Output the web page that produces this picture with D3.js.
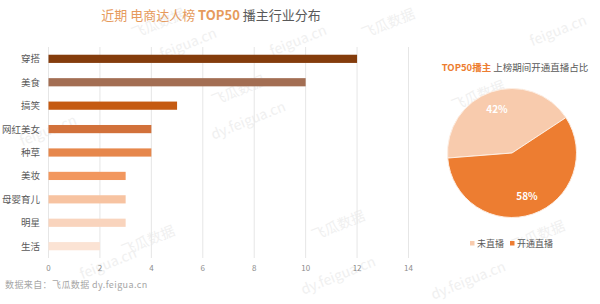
<!DOCTYPE html>
<html>
  <head>
    <meta charset="utf-8">
    <script src="https://d3js.org/d3.v7.min.js"></script>
    <style>
      body { margin: 0; background: #fff; }
      text { font-family: "Noto Sans CJK SC", "Noto Sans", sans-serif; }
    </style>
  </head>
  <body>
    <div id="chart"></div>
  <script>
    var width = 600,
        height = 304;

    // bar chart data
    var categories = ["穿搭", "美食", "搞笑", "网红美女", "种草", "美妆", "母婴育儿", "明星", "生活"];
    var counts = [12, 10, 5, 4, 4, 3, 3, 3, 2];
    var barColors = ["#843c0c", "#a36e53", "#c55a11", "#d2713a", "#e6874c", "#f2975e", "#f7c3a1", "#f9d4bd", "#fbe3d4"];
    var xTicks = [0, 2, 4, 6, 8, 10, 12, 14];

    // pie data
    var pieLabels = ["未直播", "开通直播"];
    var pieValues = [42, 58];
    var pieColors = ["#f8cbad", "#ed7d31"];

    var svg = d3.select("#chart").append("svg")
        .attr("width", width)
        .attr("height", height);

    // watermarks
    var marks = [
      ["飞瓜数据", 160, 28], ["feigua.cn", 190, 48], ["feigua.cn", 300, 45], ["飞瓜数据", 390, 28],
      ["飞瓜数据", 240, 95], ["dy.feigua.cn", 250, 125], ["飞瓜数据", 480, 100], ["dy.feigua.cn", 500, 130],
      ["feigua.cn", 50, 135], ["飞瓜数据", 150, 245], ["feigua.cn", 110, 268], ["飞瓜数据", 340, 230],
      ["dy.feigua.cn", 340, 280], ["飞瓜数据", 540, 240], ["feigua.cn", 560, 35], ["dy.feigua.cn", 470, 285]
    ];
    svg.selectAll(".wm").data(marks).enter().append("text")
        .attr("class", "wm")
        .attr("transform", d => `translate(${d[1]},${d[2]}) rotate(-22)`)
        .attr("text-anchor", "middle")
        .style("font-size", "14px")
        .style("fill", "#f0f0f0")
        .text(d => d[0]);

    // title
    var title = svg.append("text")
        .attr("x", 211)
        .attr("y", 20)
        .attr("text-anchor", "middle")
        .style("font-size", "13px");
    title.append("tspan").style("fill", "#e69a5c").text("近期 电商达人榜 ");
    title.append("tspan").style("fill", "#e69a5c").style("font-weight", "bold").text("TOP50");
    title.append("tspan").style("fill", "#595959").text(" 播主行业分布");

    // bar chart
    var x = d3.scaleLinear()
        .domain([0, 14])
        .range([48.5, 408.5]);

    var y = d3.scaleBand()
        .domain(categories)
        .range([47, 258])
        .paddingInner(0.65)
        .paddingOuter(0.33);

    svg.append("g")
        .selectAll("line")
        .data(xTicks)
        .enter()
        .append("line")
        .attr("x1", d => x(d))
        .attr("x2", d => x(d))
        .attr("y1", 47)
        .attr("y2", 258)
        .attr("stroke", "#e6e6e6")
        .attr("stroke-width", 1);

    svg.append("g")
        .selectAll("rect")
        .data(counts)
        .enter()
        .append("rect")
        .attr("x", x(0))
        .attr("y", (d, i) => y(categories[i]))
        .attr("width", d => x(d) - x(0))
        .attr("height", y.bandwidth())
        .attr("fill", (d, i) => barColors[i]);

    svg.append("g")
        .selectAll("text")
        .data(categories)
        .enter()
        .append("text")
        .attr("x", 40)
        .attr("y", d => y(d) + y.bandwidth() / 2 + 3.5)
        .attr("text-anchor", "end")
        .style("font-size", "9.5px")
        .style("fill", "#595959")
        .text(d => d);

    svg.append("g")
        .selectAll("text")
        .data(xTicks)
        .enter()
        .append("text")
        .attr("x", d => x(d))
        .attr("y", 271)
        .attr("text-anchor", "middle")
        .style("font-size", "8px")
        .style("fill", "#8c8c8c")
        .text(d => d);

    // source
    svg.append("text")
        .attr("x", 5)
        .attr("y", 288)
        .style("font-size", "9px")
        .style("fill", "#a6a6a6")
        .style("letter-spacing", "0.4px")
        .text("数据来自：飞瓜数据  dy.feigua.cn");

    // pie
    var cx = 512, cy = 153, r = 64.5;

    var pieTitle = svg.append("text")
        .attr("x", 515)
        .attr("y", 71)
        .attr("text-anchor", "middle")
        .style("font-size", "9.5px");
    pieTitle.append("tspan").style("fill", "#ed7d31").style("font-weight", "bold").text("TOP50播主");
    pieTitle.append("tspan").style("fill", "#595959").text(" 上榜期间开通直播占比");

    var start = -94.5 * Math.PI / 180;
    var pie = d3.pie()
        .sort(null)
        .startAngle(start)
        .endAngle(start + 2 * Math.PI);

    var arc = d3.arc()
        .innerRadius(0)
        .outerRadius(r);

    var slices = pie(pieValues);

    var g = svg.append("g")
        .attr("transform", `translate(${cx},${cy})`);

    g.selectAll("path")
        .data(slices)
        .enter()
        .append("path")
        .attr("d", arc)
        .attr("fill", (d, i) => pieColors[i])
        .attr("stroke", "#fdeee3")
        .attr("stroke-width", 1);

    var labelArc = d3.arc()
        .innerRadius(r * 0.72)
        .outerRadius(r * 0.72);

    g.selectAll(".pl")
        .data(slices)
        .enter()
        .append("text")
        .attr("class", "pl")
        .attr("transform", d => {
          var c = labelArc.centroid(d);
          return `translate(${c[0]},${c[1]})`;
        })
        .attr("text-anchor", "middle")
        .attr("dy", "0.35em")
        .style("font-size", "10px")
        .style("font-weight", "bold")
        .style("fill", "#ffffff")
        .text(d => d.data + "%");

    // legend
    var legendX = [470, 510];
    var legend = svg.append("g")
        .selectAll("g")
        .data(pieLabels)
        .enter()
        .append("g")
        .attr("transform", (d, i) => `translate(${legendX[i]},244)`);

    legend.append("rect")
        .attr("x", 0)
        .attr("y", -3)
        .attr("width", 4.5)
        .attr("height", 4.5)
        .attr("fill", (d, i) => pieColors[i]);

    legend.append("text")
        .attr("x", 7)
        .attr("y", 3)
        .style("font-size", "9px")
        .style("fill", "#595959")
        .text(d => d);
  </script>
  </body>
</html>
